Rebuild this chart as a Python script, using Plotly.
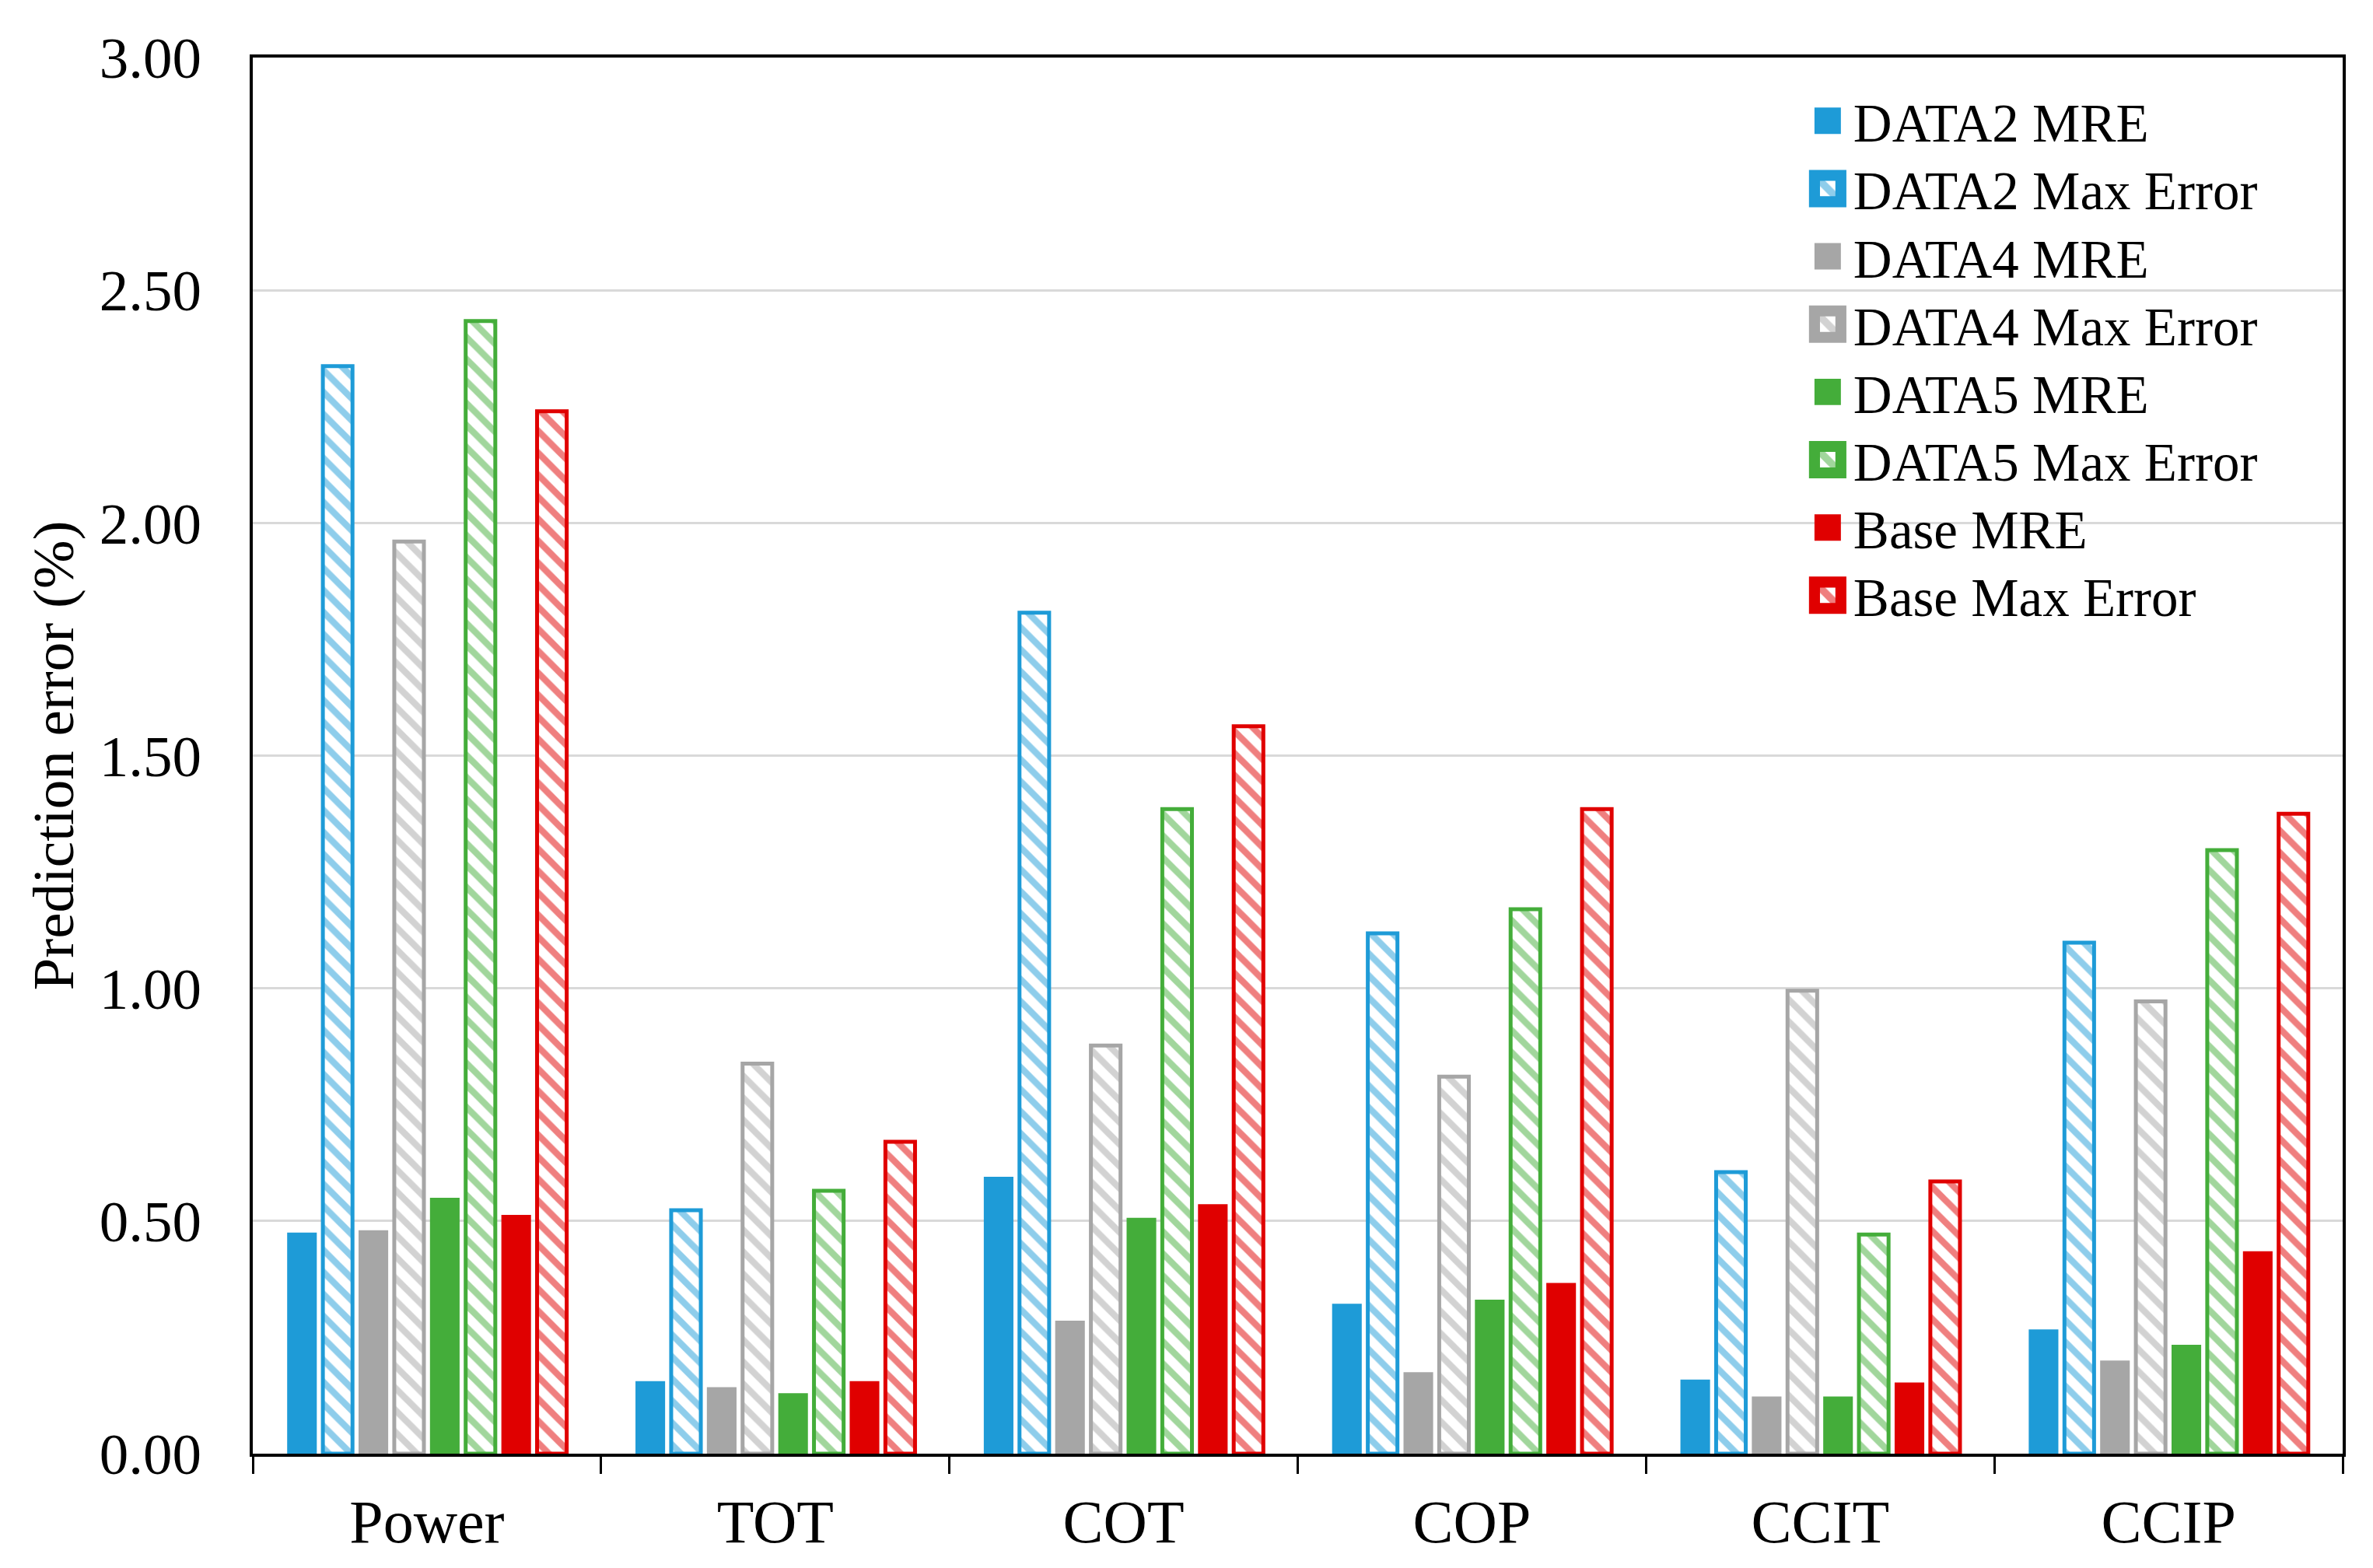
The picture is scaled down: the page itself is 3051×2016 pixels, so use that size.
import plotly.graph_objects as go

categories = ["Power", "TOT", "COT", "COP", "CCIT", "CCIP"]

data2_mre = [0.475, 0.156, 0.595, 0.322, 0.159, 0.267]
data2_max = [2.337, 0.523, 1.807, 1.118, 0.605, 1.098]
data4_mre = [0.480, 0.143, 0.286, 0.175, 0.123, 0.200]
data4_max = [1.960, 0.838, 0.877, 0.810, 0.995, 0.972]
data5_mre = [0.550, 0.130, 0.507, 0.331, 0.123, 0.234]
data5_max = [2.434, 0.565, 1.385, 1.170, 0.471, 1.297]
base_mre = [0.513, 0.156, 0.536, 0.367, 0.153, 0.435]
base_max = [2.240, 0.670, 1.563, 1.385, 0.585, 1.375]

y_ticks = [0.0, 0.5, 1.0, 1.5, 2.0, 2.5, 3.0]

series = [
    ("DATA2 MRE", data2_mre, "#1E9BD7", False),
    ("DATA2 Max Error", data2_max, "#1E9BD7", True),
    ("DATA4 MRE", data4_mre, "#A6A6A6", False),
    ("DATA4 Max Error", data4_max, "#A6A6A6", True),
    ("DATA5 MRE", data5_mre, "#44AD3A", False),
    ("DATA5 Max Error", data5_max, "#44AD3A", True),
    ("Base MRE", base_mre, "#E00000", False),
    ("Base Max Error", base_max, "#E00000", True),
]

fig = go.Figure()
for name, vals, col, hatched in series:
    if hatched:
        marker = dict(
            color="white",
            line=dict(color=col, width=5),
            pattern=dict(shape="\\", fgcolor=col, bgcolor="white", size=20, solidity=0.42, fillmode="overlay"),
        )
    else:
        marker = dict(color=col, line=dict(color=col, width=0))
    fig.add_trace(go.Bar(name=name, x=categories, y=vals, marker=marker))

font_family = "Liberation Serif, Times New Roman, serif"

fig.update_layout(
    width=3051,
    height=2016,
    barmode="group",
    bargap=0.18,
    bargroupgap=0.17,
    plot_bgcolor="white",
    paper_bgcolor="white",
    margin=dict(l=317, r=47, t=66, b=155),
    font=dict(family=font_family, size=74, color="black"),
    legend=dict(
        x=0.7413, y=0.9833, xanchor="left", yanchor="top",
        font=dict(family=font_family, size=69, color="black"),
        bgcolor="rgba(0,0,0,0)",
        tracegroupgap=0,
        itemwidth=56,
    ),
    showlegend=True,
)

fig.update_xaxes(
    showline=True, linecolor="black", linewidth=4, mirror=True,
    ticks="outside", tickson="boundaries", ticklen=22, tickwidth=3, tickcolor="black",
    tickfont=dict(family=font_family, size=78, color="black"),
    ticklabelstandoff=16,
    showgrid=False,
    automargin=False,
)

fig.update_yaxes(
    range=[0, 3.0],
    tickvals=y_ticks,
    tickformat=".2f",
    showline=True, linecolor="black", linewidth=4, mirror=True,
    ticks="", ticklabelstandoff=47,
    showgrid=True, gridcolor="#D9D9D9", gridwidth=3,
    zeroline=False,
    automargin=False,
    tickfont=dict(family=font_family, size=75, color="black"),
    title=dict(text="Prediction error (%)", font=dict(family=font_family, size=75, color="black"), standoff=10),
)

post = """
var gd = document.getElementsByClassName('plotly-graph-div')[0];
function tuneLegend(){
  document.querySelectorAll('.legend .legendpoints path').forEach(function(p){
    if (p.dataset.ot === undefined) { p.dataset.ot = p.getAttribute('transform') || ''; }
    p.setAttribute('transform', p.dataset.ot + ' scale(2.83)');
  });
  var items = document.querySelectorAll('.legend .traces');
  var y0 = null;
  items.forEach(function(t){
    if (t.dataset.oy === undefined) {
      var m = /translate\\(\\s*([-\\d.e]+)[ ,]+([-\\d.e]+)/.exec(t.getAttribute('transform') || '');
      if (!m) return;
      t.dataset.ox = m[1]; t.dataset.oy = m[2];
    }
    var oy = parseFloat(t.dataset.oy);
    if (y0 === null) { y0 = oy; }
    var ny = y0 + (oy - y0) * 0.94;
    t.setAttribute('transform', 'translate(' + t.dataset.ox + ',' + ny + ')');
  });
}
tuneLegend();
if (gd && gd.on) { gd.on('plotly_afterplot', tuneLegend); }
"""

fig.write_html("out.html", post_script=post)
